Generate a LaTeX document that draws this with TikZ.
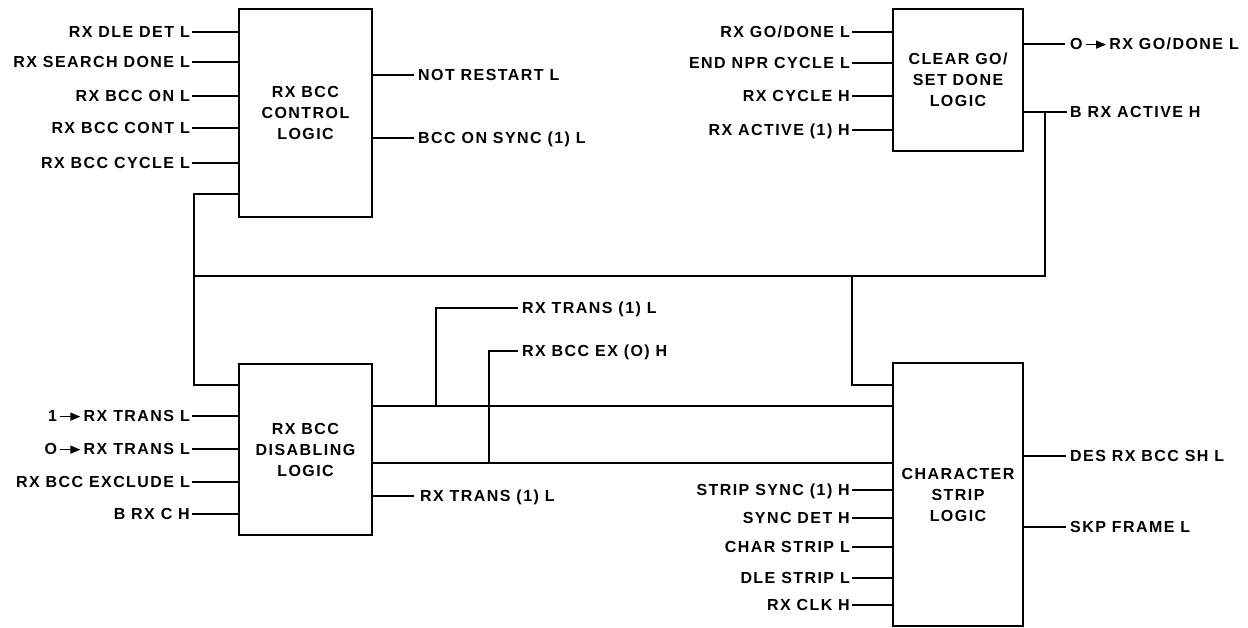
\documentclass[tikz,border=0pt]{standalone}
\usepackage{fontspec}
\setmainfont{Liberation Sans}[LetterSpace=9]
\usetikzlibrary{arrows.meta}
\newcommand{\tarr}{\tikz[baseline=-0.6ex]\draw[line width=1.4pt,-{Triangle[length=10pt,width=8pt]}] (0pt,0pt)--(20pt,0pt);}
\tikzset{
  blk/.style={draw, line width=2.2pt, inner sep=0pt, align=center,
    font=\fontsize{16}{21}\selectfont\bfseries},
  lbl/.style={inner sep=0pt, text height=11.4pt, text depth=0pt,
    font=\fontsize{16}{18}\selectfont\bfseries},
  wire/.style={line width=1.3pt},
}
\begin{document}
\begin{tikzpicture}[x=1pt,y=-1pt]
\useasboundingbox (0,0) rectangle (1248,627);
% blocks
\node[blk, minimum width=133pt, minimum height=208pt] (b1) at (305.5,113) {RX BCC\\CONTROL\\LOGIC};
\node[blk, minimum width=130pt, minimum height=142pt] (b2) at (958,80) {CLEAR GO/\\SET DONE\\LOGIC};
\node[blk, minimum width=133pt, minimum height=171pt] (b3) at (305.5,449.5) {RX BCC\\DISABLING\\LOGIC};
\node[blk, minimum width=130pt, minimum height=263pt] (b4) at (958,494.5) {CHARACTER\\STRIP\\LOGIC};

% block 1 inputs
\foreach \y/\t/\n in {32/RX DLE DET L/a1, 62/RX SEARCH DONE L/a2, 96/RX BCC ON L/a3, 128/RX BCC CONT L/a4, 163/RX BCC CYCLE L/a5}{
  \node[lbl, anchor=east] (\n) at (190,\y) {\t};
  \draw[wire] ([xshift=2pt]\n.east) -- (\n.east -| b1.west);
}
% block 1 outputs
\foreach \y/\t/\n in {75/NOT RESTART L/o1, 138/BCC ON SYNC (1) L/o2}{
  \node[lbl, anchor=west] (\n) at (418,\y) {\t};
  \draw[wire] (\n.west -| b1.east) -- ([xshift=-4pt]\n.west);
}
% block 2 inputs
\foreach \y/\t/\n in {32/{RX GO/DONE L}/c1, 63/END NPR CYCLE L/c2, 96/RX CYCLE H/c3, 130/RX ACTIVE (1) H/c4}{
  \node[lbl, anchor=east] (\n) at (850,\y) {\t};
  \draw[wire] ([xshift=2pt]\n.east) -- (\n.east -| b2.west);
}
% block 2 outputs
\node[lbl, anchor=west] (d1) at (1070,44) {O\,\tarr\,RX GO/DONE L};
\draw[wire] (d1.west -| b2.east) -- ([xshift=-5pt]d1.west);
\node[lbl, anchor=west] (d2) at (1070,112) {B RX ACTIVE H};
\draw[wire] (d2.west -| b2.east) -- ([xshift=-3pt]d2.west);

% bus
\coordinate (jA) at (1045,112);
\coordinate (jB) at (1045,276);
\coordinate (jL) at (194,276);
\coordinate (jF) at (194,194);
\coordinate (jD) at (194,385);
\coordinate (jC) at (852,276);
\coordinate (jE) at (852,385);
\draw[wire] (jA) -- (jB) -- (jL);
\draw[wire] (jF -| b1.west) -- (jF) -- (jD) -- (jD -| b3.west);
\draw[wire] (jC) -- (jE) -- (jE -| b4.west);

% block 3 inputs
\foreach \y/\t/\n in {416/1\,\tarr\,RX TRANS L/e1, 449/O\,\tarr\,RX TRANS L/e2, 482/RX BCC EXCLUDE L/e3, 514/B RX C H/e4}{
  \node[lbl, anchor=east] (\n) at (190,\y) {\t};
  \draw[wire] ([xshift=2pt]\n.east) -- (\n.east -| b3.west);
}
% block 3 to block 4
\coordinate (k1) at (436,406);
\coordinate (k2) at (489,463);
\draw[wire] (k1 -| b3.east) -- (k1 -| b4.west);
\draw[wire] (k2 -| b3.east) -- (k2 -| b4.west);
\node[lbl, anchor=west] (g1) at (522,308) {RX TRANS (1) L};
\node[lbl, anchor=west] (g2) at (522,351) {RX BCC EX (O) H};
\draw[wire] (k1) -- (k1 |- g1.west) -- ([xshift=-4pt]g1.west);
\draw[wire] (k2) -- (k2 |- g2.west) -- ([xshift=-4pt]g2.west);
\node[lbl, anchor=west] (g3) at (420,496) {RX TRANS (1) L};
\draw[wire] (g3.west -| b3.east) -- ([xshift=-6pt]g3.west);

% block 4 inputs
\foreach \y/\t/\n in {490/STRIP SYNC (1) H/h1, 518/SYNC DET H/h2, 547/CHAR STRIP L/h3, 578/DLE STRIP L/h4, 605/RX CLK H/h5}{
  \node[lbl, anchor=east] (\n) at (850,\y) {\t};
  \draw[wire] ([xshift=2pt]\n.east) -- (\n.east -| b4.west);
}
% block 4 outputs
\foreach \y/\t/\n in {456/DES RX BCC SH L/m1, 527/SKP FRAME L/m2}{
  \node[lbl, anchor=west] (\n) at (1070,\y) {\t};
  \draw[wire] (\n.west -| b4.east) -- ([xshift=-4pt]\n.west);
}
\end{tikzpicture}
\end{document}
